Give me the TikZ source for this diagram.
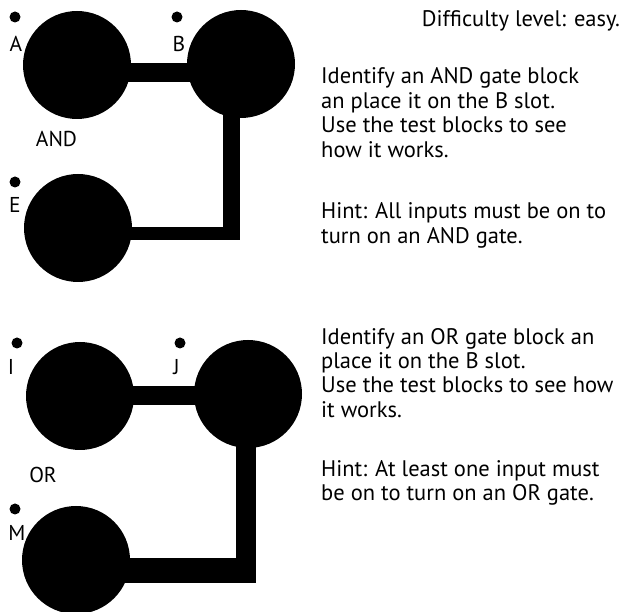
\documentclass[tikz,border=0pt]{standalone}
\usepackage{fontspec}
\setmainfont{PT Sans}
\begin{document}
\begin{tikzpicture}[x=1pt,y=-1pt,
  slot/.style={circle,fill=black,inner sep=0pt,minimum size=108pt},
  pin/.style={circle,fill=black,inner sep=0pt,minimum size=11pt},
  lbl/.style={inner sep=0pt,anchor=base,font=\fontsize{21.5}{24}\selectfont},
  para/.style={inner sep=0pt,anchor=base west,align=left,
    font=\fontsize{22.5}{24.5}\selectfont},
  wire/.style={line width=#1pt,line cap=butt}]
\useasboundingbox (0,0) rectangle (622,612);

% ---------- AND circuit ----------
\node[slot] (A) at (77,65) {};
\node[slot] (B) at (241,64) {};
\node[slot] (E) at (78,228) {};
\coordinate (abar) at (0,72.5);
\coordinate (ev) at (231.5,240);
\coordinate (eh) at (240,233.5);
\draw[wire=19] (A.center |- abar) -- (B.center |- abar);
\draw[wire=17] (B.center -| ev) -- (ev);
\draw[wire=13] (E.center |- eh) -- (eh);

\node[pin] (pA) at (15,17) {};
\node[pin] (pB) at (177,17) {};
\node[pin] (pE) at (15,182) {};
\node[lbl] (lA) at (16,52) {A};
\node[lbl] (lB) at (179,52) {B};
\node[lbl] (lE) at (15,213) {E};
\node[lbl] (lAND) at (56.5,147) {AND};

% ---------- OR circuit ----------
\node[slot] (I) at (80,396) {};
\node[slot] (J) at (248,394) {};
\node[slot] (M) at (76,560) {};
\coordinate (obar) at (0,395.5);
\coordinate (ov) at (245.5,583);
\coordinate (oh) at (255,570.5);
\draw[wire=19] (I.center |- obar) -- (J.center |- obar);
\draw[wire=20] (J.center -| ov) -- (ov);
\draw[wire=25] (M.center |- oh) -- (oh);

\node[pin] (pI) at (17,343) {};
\node[pin] (pJ) at (180,343) {};
\node[pin] (pM) at (15,509) {};
\node[lbl] (lI) at (11,375) {I};
\node[lbl] (lJ) at (176.5,375) {J};
\node[lbl] (lOR) at (43,483) {OR};
\node[lbl] (lM) at (17,540) {M};

% ---------- texts (anchored at the baseline of their last line) ----------
\node[para,anchor=base east] (level) at (620,27) {Difficulty level: easy.};
\node[para] (t1) at (321,157.5) {Identify an AND gate block\\an place it on the B slot.\\Use the test blocks to see\\how it works.};
\node[para] (h1) at (321,243.5) {Hint: All inputs must be on to\\turn on an AND gate.};
\node[para] (t2) at (321,417.5) {Identify an OR gate block an\\place it on the B slot.\\Use the test blocks to see how\\it works.};
\node[para] (h2) at (321,500.5) {Hint: At least one input must\\be on to turn on an OR gate.};
\end{tikzpicture}
\end{document}
